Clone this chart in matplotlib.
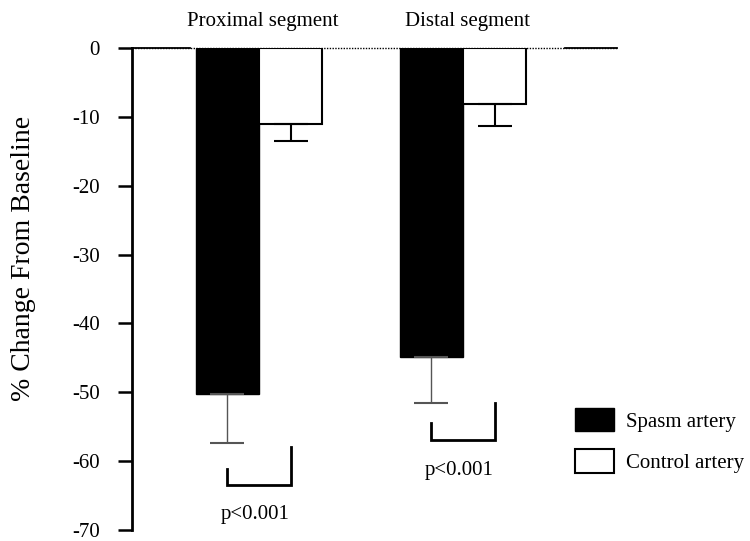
import numpy as np
import matplotlib
matplotlib.use("Agg")
import matplotlib.pyplot as plt
from matplotlib.patches import Patch

plt.rcParams['font.family'] = ['Liberation Serif', 'DejaVu Serif']

# values (% change from baseline)
segments = ['Proximal segment', 'Distal segment']
spasm_mean = [-50.2, -44.9]
spasm_err = [7.2, 6.6]
control_mean = [-11.0, -8.1]
control_err = [2.5, 3.2]

# significance brackets (y levels) and p labels
bracket_left_top = [-61.1, -54.4]
bracket_right_top = [-57.9, -51.5]
bracket_bottom = [-63.5, -57.0]
p_label_y = [-67.8, -61.3]
p_labels = ['p<0.001', 'p<0.001']

yticks = [0, -10, -20, -30, -40, -50, -60, -70]

x = np.arange(len(segments))
w = 0.31

fig = plt.figure(figsize=(7.5, 5.41), dpi=100)
ax = fig.add_axes([132 / 750, 11 / 541, 485 / 750, 482 / 541])

ax.bar(x - w / 2, spasm_mean, width=w, color='black', edgecolor='black',
       linewidth=1, label='Spasm artery', zorder=2)
ax.bar(x + w / 2, control_mean, width=w, color='white', edgecolor='black',
       linewidth=1.5, label='Control artery', zorder=2)

# error bars only go downwards
ax.errorbar(x - w / 2, spasm_mean, yerr=[spasm_err, [0, 0]], fmt='none',
            ecolor='#555555', elinewidth=1, capsize=12, capthick=1.5, zorder=3)
ax.errorbar(x + w / 2, control_mean, yerr=[control_err, [0, 0]], fmt='none',
            ecolor='black', elinewidth=1.5, capsize=12, capthick=1.5, zorder=3)

# zero line (dotted in the original scan)
ax.plot([-0.623, 1.755], [0, 0], color='black', lw=1, ls=(0, (1, 1)),
        clip_on=False, zorder=1)
ax.plot([-0.623, -0.34], [0, 0], color='black', lw=1.3, clip_on=False, zorder=1)
ax.plot([1.5, 1.755], [0, 0], color='black', lw=1.3, clip_on=False, zorder=1)

for i in range(len(segments)):
    xl, xr = x[i] - w / 2, x[i] + w / 2
    ax.plot([xl, xl, xr, xr],
            [bracket_left_top[i], bracket_bottom[i], bracket_bottom[i], bracket_right_top[i]],
            color='black', lw=2, solid_joinstyle='miter', clip_on=False)
    ax.text(x[i] - 0.02, p_label_y[i], p_labels[i], ha='center', va='center',
            fontsize=15, clip_on=False)
    ax.text(x[i] + 0.02, 3.8, segments[i], ha='center', va='center',
            fontsize=15, clip_on=False)

ax.set_xlim(-0.623, 1.755)
ax.set_ylim(-70, 0)
ax.set_yticks(yticks)
ax.set_yticklabels([str(t) for t in yticks])
ax.set_xticks([])
for s in ['top', 'right', 'bottom']:
    ax.spines[s].set_visible(False)
ax.spines['left'].set_linewidth(2)
ax.tick_params(axis='y', direction='out', length=10, width=1.8, pad=13,
               labelsize=15)

fig.text(24 / 750, 1 - 258 / 541, '% Change From Baseline', rotation=90,
         ha='center', va='center', fontsize=20)

handles = [Patch(facecolor='black', edgecolor='black', label='Spasm artery'),
           Patch(facecolor='white', edgecolor='black', linewidth=1.5,
                 label='Control artery')]
ax.legend(handles=handles, loc='upper left',
          bbox_to_anchor=(575 / 750, 1 - 408 / 541),
          bbox_transform=fig.transFigure, frameon=False, borderpad=0,
          borderaxespad=0, handlelength=1.85, handleheight=1.35,
          handletextpad=0.6, labelspacing=0.85, fontsize=15)

fig.savefig('out.png', dpi=100)
